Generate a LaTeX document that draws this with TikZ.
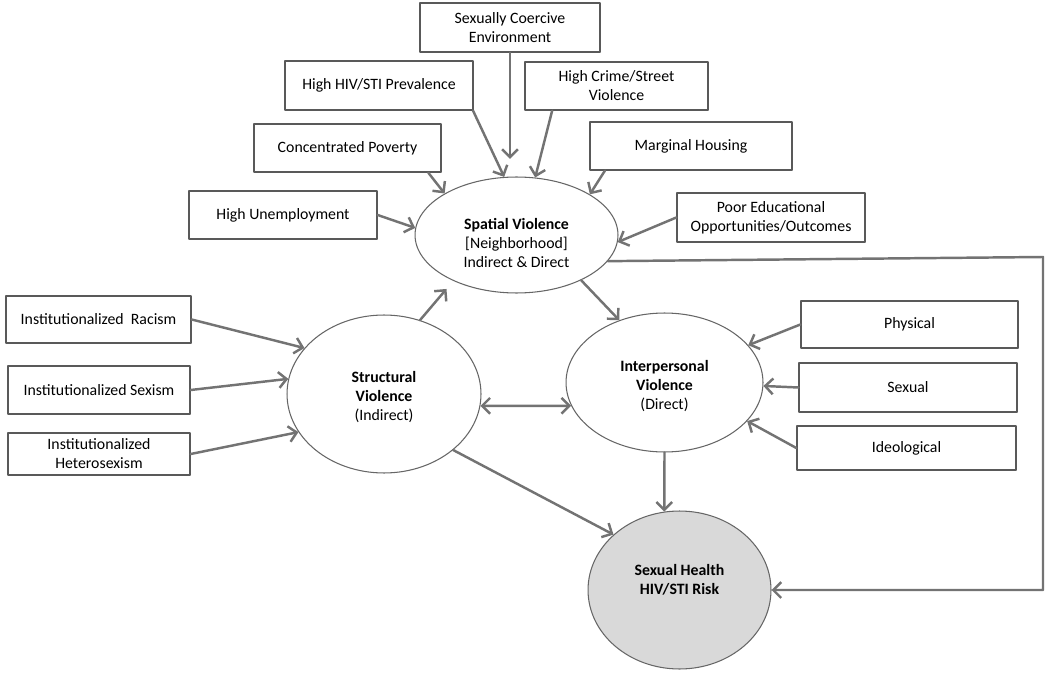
\documentclass[tikz,border=0pt]{standalone}
\usepackage{fontspec}
\setmainfont{Carlito}
\usetikzlibrary{arrows.meta,shapes.geometric,shadows}
\begin{document}
\begin{tikzpicture}[x=0.02cm,y=-0.02cm,>={Straight Barb[length=4.5pt,width=9pt]}, font=\fontsize{9}{10.8}\selectfont, line join=round, line cap=round]
	\tikzset{box/.style={draw=black!65,line width=0.8pt,fill=white,align=center,minimum height=0.96cm,inner sep=2pt,drop shadow={shadow xshift=0.6pt,shadow yshift=-0.6pt,opacity=0.25}},
		oval/.style={ellipse,draw=black!60,line width=0.6pt,fill=white,align=center,inner sep=0pt},
		link/.style={->,draw=black!55,line width=1.4pt}}
	\useasboundingbox (0,0) rectangle (1050,675);
	% neighbourhood factors
	\node[box,minimum width=3.6cm,minimum height=0.98cm] (coer) at (510,27.5) {Sexually Coercive\\Environment};
	\node[box,minimum width=3.76cm,minimum height=0.98cm] (hiv) at (379,85.5) {High HIV/STI Prevalence};
	\node[box,minimum width=3.66cm] (crime) at (616.5,86) {High Crime/Street\\Violence};
	\node[box,minimum width=3.74cm] (pov) at (347.5,148) {Concentrated Poverty};
	\node[box,minimum width=4.04cm] (house) at (691,146) {Marginal Housing};
	\node[box,minimum width=3.76cm] (unemp) at (283,215) {High Unemployment};
	\node[box,minimum width=3.76cm,minimum height=0.98cm] (edu) at (771,217.5) {Poor Educational\\Opportunities/Outcomes};
	% institutional factors
	\node[box,minimum width=3.7cm,minimum height=0.94cm] (racism) at (98.5,319.5) {Institutionalized~ Racism};
	\node[box,minimum width=3.64cm] (sexism) at (99,390) {Institutionalized Sexism};
	\node[box,minimum width=3.64cm,minimum height=0.84cm] (hetero) at (99,454) {Institutionalized\\Heterosexism};
	% forms of interpersonal violence
	\node[box,minimum width=4.34cm,minimum height=0.94cm] (phys) at (909.5,324.5) {Physical};
	\node[box,minimum width=4.36cm,minimum height=0.98cm] (sexual) at (908,387.5) {Sexual};
	\node[box,minimum width=4.38cm,minimum height=0.88cm] (ideo) at (906.5,448) {Ideological};
	% the four ovals
	\node[oval,minimum width=4.06cm,minimum height=2.32cm] (spatial) at (516.5,235) {\rule{0pt}{15pt}\textbf{Spatial Violence}\\{[}Neighborhood{]}\\Indirect \& Direct};
	\node[oval,minimum width=3.88cm,minimum height=3.16cm] (struct) at (384,394) {\rule{0pt}{10pt}\textbf{Structural}\\\textbf{Violence}\\(Indirect)};
	\node[oval,minimum width=3.94cm,minimum height=2.78cm] (inter) at (664.5,382.5) {\rule{0pt}{10pt}\textbf{Interpersonal}\\\textbf{Violence}\\(Direct)};
	\node[oval,fill=black!15,minimum width=3.66cm,minimum height=3.16cm] (health) at (679.5,590) {\textbf{Sexual Health}\\\textbf{HIV/STI Risk}\rule[-12pt]{0pt}{1pt}};
	% arrows
	\draw[link] (unemp.east) -- (spatial.176);
	\draw[link] (pov.-17) -- (spatial.150);
	\draw[link] (hiv.-15) -- (spatial.102);
	\draw[link,shorten >=10pt] (coer.south) -- (coer.south |- spatial.north);
	\draw[link] (crime.201) -- (spatial.72);
	\draw[link] (house.196) -- (spatial.29);
	\draw[link] (edu.west) -- (spatial.-4);
	\draw[link] (racism.east) -- (struct.150);
	\draw[link] (sexism.east) -- (struct.171);
	\draw[link] (hetero.east) -- (struct.204);
	\draw[link] (phys.west) -- (inter.24);
	\draw[link] (sexual.west) -- (inter.-2);
	\draw[link] (ideo.west) -- (inter.-25);
	\draw[link,shorten >=6pt] (struct.64) -- (spatial.216);
	\draw[link] (spatial.-35) -- (inter.126);
	\draw[link,<->] (struct.-7) -- (inter.194);
	\draw[link] (struct.-39) -- (health.140);
	\draw[link] (inter.south) -- (health.101);
	\coordinate (corner) at (1043,257);
	\draw[link] (spatial.-16) -- (corner) |- (health.east);
\end{tikzpicture}
\end{document}
